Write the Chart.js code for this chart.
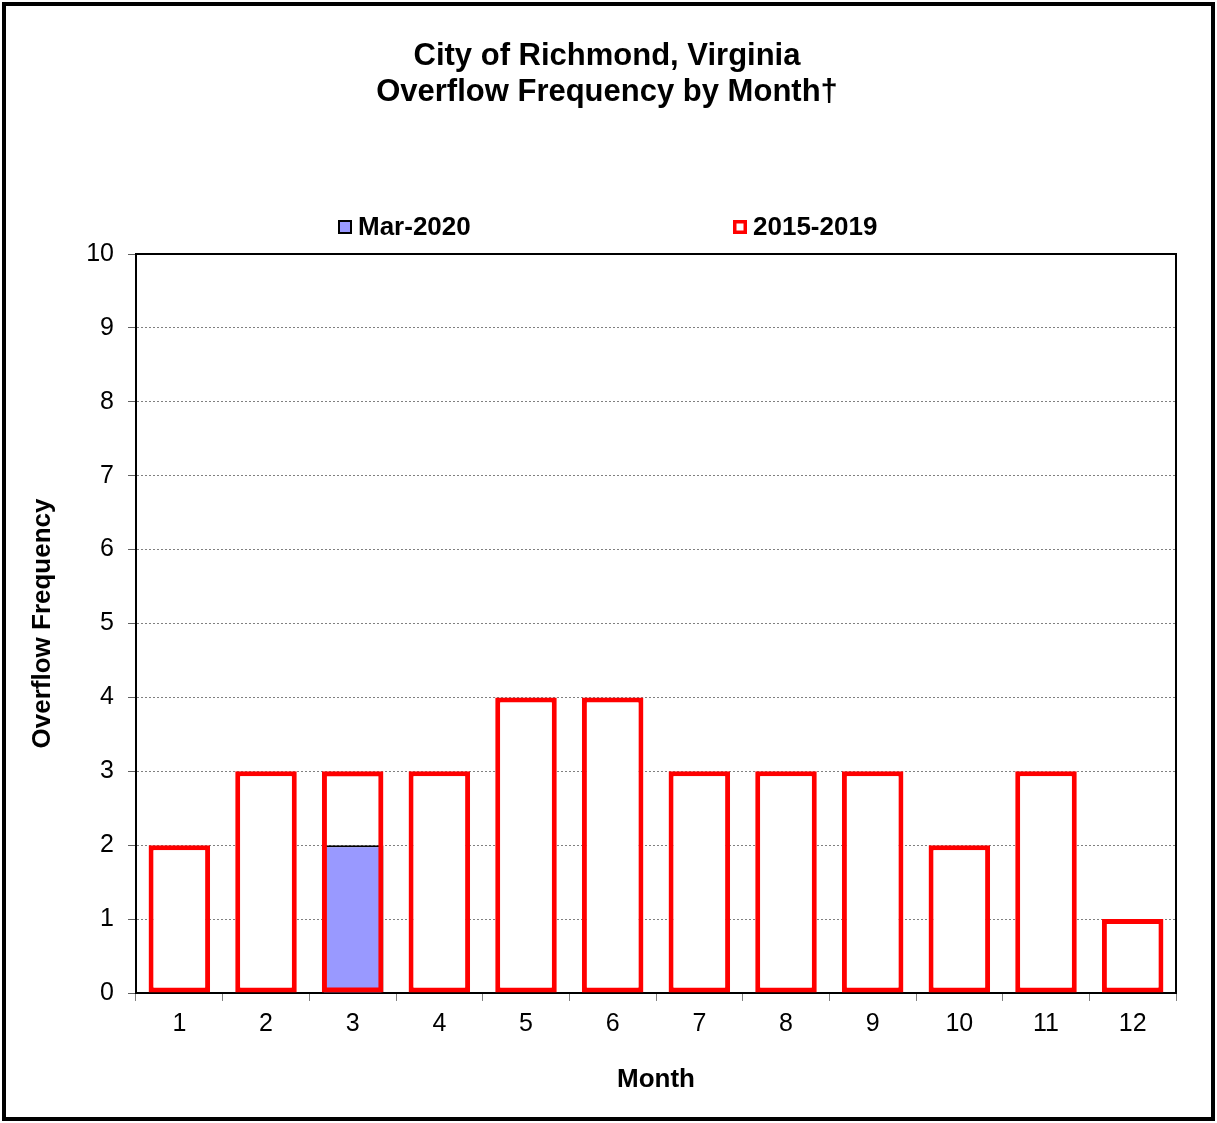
<!DOCTYPE html>
<html>
<head>
<meta charset="utf-8">
<script src="https://cdn.jsdelivr.net/npm/chart.js@4.4.1/dist/chart.umd.min.js"></script>
<style>
  html, body { margin: 0; padding: 0; background: #fff; }
  #wrap { width: 1217px; height: 1123px; }
</style>
</head>
<body>
<div id="wrap"><canvas id="chart" width="1217" height="1123"></canvas></div>
<script>
// Data
const months = ['1', '2', '3', '4', '5', '6', '7', '8', '9', '10', '11', '12'];
const mar2020 = [null, null, 2, null, null, null, null, null, null, null, null, null];
const hist2015to2019 = [2, 3, 3, 3, 4, 4, 3, 3, 3, 2, 3, 1];
const yTicks = [0, 10, 1]; // min, max, step

const FONT = "'Liberation Sans', Arial, Helvetica, sans-serif";
Chart.defaults.color = '#000';
Chart.defaults.font.family = FONT;

// Outer frame + white background, and full black box round the plot area
const framePlugin = {
    id: 'frame',
    beforeDraw(chart) {
        const ctx = chart.ctx;
        ctx.save();
        ctx.fillStyle = '#fff';
        ctx.fillRect(0, 0, chart.width, chart.height);
        ctx.strokeStyle = '#000';
        ctx.lineWidth = 4;
        ctx.strokeRect(4, 4, chart.width - 8, chart.height - 8);
        ctx.restore();
    },
    beforeDatasetsDraw(chart) {
        const a = chart.chartArea;
        const ctx = chart.ctx;
        ctx.save();
        ctx.strokeStyle = '#000';
        ctx.lineWidth = 2;
        ctx.strokeRect(a.left, a.top, a.right - a.left, a.bottom - a.top);
        ctx.restore();
    }
};

// Excel-style legend: two items spread out above the plot
const legendPlugin = {
    id: 'spreadLegend',
    afterDraw(chart) {
        const ctx = chart.ctx;
        const a = chart.chartArea;
        const y = a.top - 27;
        const items = [
            { x: a.left + 202, label: chart.data.datasets[0].label, fill: '#9999FF', stroke: '#000', lw: 2 },
            { x: a.left + 597, label: chart.data.datasets[1].label, fill: '#fff', stroke: '#FF0000', lw: 3.5 }
        ];
        ctx.save();
        ctx.font = 'bold 26px ' + FONT;
        ctx.textBaseline = 'middle';
        ctx.textAlign = 'left';
        items.forEach(it => {
            ctx.fillStyle = it.fill;
            ctx.fillRect(it.x, y - 7, 14, 14);
            ctx.strokeStyle = it.stroke;
            ctx.lineWidth = it.lw;
            ctx.strokeRect(it.x + it.lw / 2, y - 7 + it.lw / 2, 14 - it.lw, 14 - it.lw);
            ctx.fillStyle = '#000';
            ctx.fillText(it.label, it.x + 20, y + 1);
        });
        ctx.restore();
    }
};

const ctx = document.getElementById('chart').getContext('2d');
new Chart(ctx, {
    type: 'bar',
    data: {
        labels: months,
        datasets: [
            {
                label: 'Mar-2020',
                data: mar2020,
                backgroundColor: '#9999FF',
                borderColor: '#000',
                borderWidth: 2,
                inflateAmount: 0,
                grouped: false,
                order: 2,
                barPercentage: 0.71,
                categoryPercentage: 1
            },
            {
                label: '2015-2019',
                data: hist2015to2019,
                // white fill, except where the Mar-2020 bar sits behind
                backgroundColor: c => mar2020[c.dataIndex] != null ? 'rgba(0,0,0,0)' : '#fff',
                borderColor: '#FF0000',
                borderWidth: 5,
                borderSkipped: false,
                inflateAmount: 0,
                grouped: false,
                order: 1,
                barPercentage: 0.71,
                categoryPercentage: 1
            }
        ]
    },
    options: {
        responsive: false,
        animation: false,
        layout: { padding: { left: 38, right: 41, top: 0, bottom: 20 } },
        plugins: {
            legend: { display: false },
            tooltip: { enabled: false },
            title: {
                display: true,
                text: ['City of Richmond, Virginia', 'Overflow Frequency by Month†'],
                font: { size: 31, weight: 'bold', lineHeight: '36px' },
                color: '#000',
                padding: { top: 38, bottom: 144 }
            }
        },
        scales: {
            x: {
                grid: {
                    drawOnChartArea: false,
                    drawTicks: true,
                    tickLength: 8,
                    tickColor: '#808080',
                    offset: true
                },
                border: { color: '#000', width: 2 },
                ticks: { font: { size: 25 }, color: '#000', padding: 8 },
                title: {
                    display: true,
                    text: 'Month',
                    font: { size: 26, weight: 'bold', lineHeight: 1.2 },
                    color: '#000',
                    padding: { top: 0, bottom: 8 }
                },
                afterFit: s => { s.height = 110; }
            },
            y: {
                min: yTicks[0],
                max: yTicks[1],
                ticks: { stepSize: yTicks[2], font: { size: 25 }, color: '#000', padding: 14 },
                grid: {
                    color: '#808080',
                    lineWidth: 1,
                    tickLength: 8,
                    tickColor: '#606060',
                    tickBorderDash: []
                },
                border: { color: '#000', width: 2, dash: [2, 2] },
                title: {
                    display: true,
                    text: 'Overflow Frequency',
                    font: { size: 26, weight: 'bold', lineHeight: 1.2 },
                    color: '#000',
                    padding: { top: -11, bottom: 0 }
                },
                afterFit: s => { s.width = 98; }
            }
        }
    },
    plugins: [framePlugin, legendPlugin]
});
</script>
</body>
</html>
